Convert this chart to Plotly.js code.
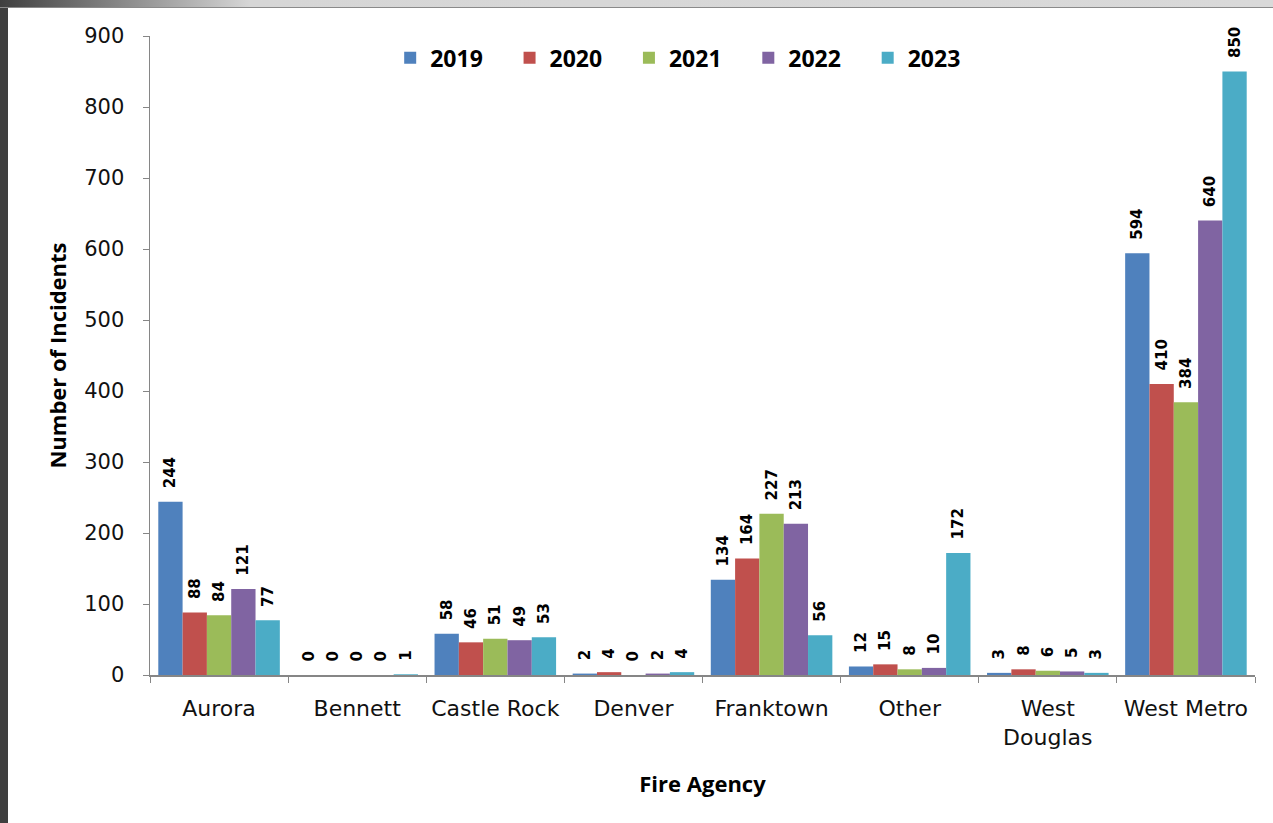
<!DOCTYPE html>
<html><head><meta charset="utf-8">
<script src="https://cdn.plot.ly/plotly-3.0.1.min.js"></script>
<style>
html,body{margin:0;padding:0;background:#fff;width:1273px;height:823px;overflow:hidden;}
#left{position:absolute;left:0;top:0;width:8px;height:823px;background:#3f3f3f;z-index:5;}
#top{position:absolute;left:0;top:0;width:1273px;height:7px;background:linear-gradient(to right,#3f3f3f 0px,#d6d6d6 250px,#d9d9d9 100%);border-bottom:1px solid #8a8a8a;z-index:5;}
#chart{position:absolute;left:0;top:0;width:1273px;height:823px;}
</style></head><body>
<div id="chart"></div><div id="left"></div><div id="top"></div>
<script>
const categories = ["Aurora","Bennett","Castle Rock","Denver","Franktown","Other","West<br>Douglas","West Metro"];
const years = ["2019","2020","2021","2022","2023"];
const v2019 = [244,0,58,2,134,12,3,594];
const v2020 = [88,0,46,4,164,15,8,410];
const v2021 = [84,0,51,0,227,8,6,384];
const v2022 = [121,0,49,2,213,10,5,640];
const v2023 = [77,1,53,4,56,172,3,850];
const series = [v2019,v2020,v2021,v2022,v2023];
const colors = ["#4F81BD","#C0504D","#9BBB59","#8064A2","#4BACC6"];

const traces = series.map((vals,i)=>({
  type:"bar", name:years[i] + (i<years.length-1 ? "\u00A0\u00A0\u00A0\u2006" : ""), x:categories, y:vals,
  marker:{color:colors[i]},
  text:vals.map(v=>"\u00A0\u00A0"+v), textposition:"outside", textangle:-90,
  textfont:{family:"DejaVu Sans, Verdana, sans-serif", size:15, color:"#000", weight:"bold"},
  cliponaxis:false, constraintext:"none"
}));

const layout = {
  width:1273, height:823,
  margin:{l:150, r:18, t:36, b:148},
  paper_bgcolor:"#fff", plot_bgcolor:"#fff",
  barmode:"group", bargap:0.12, bargroupgap:0,
  font:{family:"DejaVu Sans, Verdana, sans-serif", color:"#000"},
  showlegend:true,
  legend:{orientation:"h", x:0.478, xanchor:"center", y:0.966, yanchor:"middle",
    font:{size:23, weight:"bold", family:"Open Sans, DejaVu Sans, sans-serif"}, bgcolor:"rgba(0,0,0,0)",
    itemwidth:30, traceorder:"normal"},
  xaxis:{
    showline:true, linecolor:"#868686", linewidth:1.5,
    ticks:"outside", tickson:"boundaries", ticklen:6, tickcolor:"#868686",
    tickfont:{size:22, family:"DejaVu Sans, Verdana, sans-serif", color:"#111"},
    ticklabelstandoff:13,
    title:{text:"Fire Agency", font:{size:22, weight:"bold", family:"Open Sans, sans-serif"}, standoff:28},
    showgrid:false, zeroline:false
  },
  yaxis:{
    range:[0,900], dtick:100, showline:true, linecolor:"#868686", linewidth:1.5,
    ticks:"outside", ticklen:6, tickcolor:"#868686",
    tickfont:{size:21, family:"DejaVu Sans, Verdana, sans-serif", color:"#111"},
    ticklabelstandoff:14,
    title:{text:"Number of Incidents", font:{size:22, weight:"bold", family:"Open Sans, sans-serif"}, standoff:11},
    showgrid:false, zeroline:false
  }
};
Plotly.newPlot("chart", traces, layout, {displayModeBar:false, staticPlot:true});
</script>
</body></html>
